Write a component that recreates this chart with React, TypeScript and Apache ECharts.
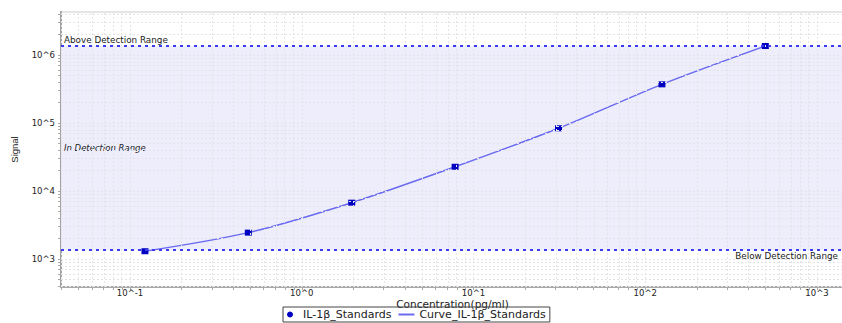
import React, { useEffect, useRef } from "react";
import * as echarts from "echarts";

// Standard curve: concentrations (pg/ml) and measured signal
const concentrations = [0.1221, 0.4883, 1.953, 7.8125, 31.25, 125, 500];
const signals = [1300, 2440, 6730, 22700, 83600, 370000, 1355000];

// Detection limits (signal)
const upperLimit = 1355000;
const lowerLimit = 1355;

// Decade tick labels (log10 exponents)
const xDecades = [-1, 0, 1, 2, 3];
const yDecades = [3, 4, 5, 6];

const standardsName = "IL-1β_Standards";
const curveName = "Curve_IL-1β_Standards";

// Axis extents in log10 units
const X_MIN = -1.402;
const X_MAX = 3.157;
const Y_MIN = 2.588;
const Y_MAX = 6.632;

const FONT = "DejaVu Sans";

// positions of log grid lines (1..9 × 10^n) inside an extent
function logGrid(min: number, max: number): number[] {
  const out: number[] = [];
  for (let n = Math.floor(min) - 1; n <= Math.ceil(max); n++) {
    for (let k = 1; k <= 9; k++) {
      const v = Math.log10(k) + n;
      if (v > min && v < max) out.push(v);
    }
  }
  return out;
}

export default function App() {
  const ref = useRef<HTMLDivElement>(null);

  useEffect(() => {
    if (!ref.current) return;
    const chart = echarts.init(ref.current, undefined, { renderer: "svg" });

    const xGrid = logGrid(X_MIN, X_MAX);
    const yGrid = logGrid(Y_MIN, Y_MAX);
    const points = concentrations.map((c, i) => [Math.log10(c), Math.log10(signals[i])]);

    const gridLineStyle = { color: "#e3e3e8", width: 1, type: [2, 2] as number[] };

    chart.setOption({
      animation: false,
      backgroundColor: "#ffffff",
      grid: {
        left: 61,
        right: -2,
        top: 12,
        bottom: 36,
        show: true,
        borderColor: "#cccccc",
        borderWidth: 1,
        backgroundColor: "transparent",
        containLabel: false,
        outerBoundsMode: "none",
      },
      legend: {
        left: 283,
        bottom: 1,
        data: [
          { name: standardsName, icon: "circle" },
          { name: curveName, itemStyle: { opacity: 0 } },
        ],
        borderColor: "#444444",
        borderWidth: 1,
        padding: [2, 4, 2, 4],
        itemGap: 6,
        itemWidth: 16,
        itemHeight: 6,
        textStyle: { fontFamily: FONT, fontSize: 11, color: "#222222" },
      },
      xAxis: {
        type: "value",
        min: X_MIN,
        max: X_MAX,
        name: "Concentration(pg/ml)",
        nameLocation: "middle",
        nameGap: 11,
        nameMoveOverlap: false,
        nameTextStyle: { fontFamily: FONT, fontSize: 10.5, color: "#222222" },
        axisLine: { show: true, onZero: false, lineStyle: { color: "#a8a8a8", width: 2 } },
        axisTick: {
          show: true,
          customValues: xGrid,
          length: 3,
          lineStyle: { color: "#a8a8a8" },
        },
        axisLabel: {
          customValues: xDecades,
          formatter: (v: number) => "10^" + Math.round(v),
          margin: 1,
          fontFamily: FONT,
          fontSize: 8.5,
          color: "#222222",
        },
        splitLine: { show: false },
      },
      yAxis: {
        type: "value",
        min: Y_MIN,
        max: Y_MAX,
        name: "Signal",
        nameLocation: "middle",
        nameGap: 42,
        nameMoveOverlap: false,
        nameTextStyle: {
          fontFamily: "'Liberation Sans Narrow', 'Liberation Sans'",
          fontSize: 9.5,
          color: "#222222",
        },
        axisLine: { show: true, onZero: false, lineStyle: { color: "#a0a0a0", width: 2 } },
        axisTick: {
          show: true,
          customValues: yGrid,
          length: 3,
          lineStyle: { color: "#a8a8a8" },
        },
        axisLabel: {
          customValues: yDecades,
          formatter: (v: number) => "10^" + Math.round(v),
          margin: 6,
          fontFamily: FONT,
          fontSize: 8.5,
          color: "#222222",
        },
        splitLine: { show: false },
      },
      series: [
        {
          // detection range band and log grid
          type: "line",
          name: "grid",
          data: [],
          silent: true,
          z: 1,
          markArea: {
            silent: true,
            itemStyle: { color: "#ededfc" },
            label: {
              show: true,
              position: "insideLeft",
              distance: 3,
              fontFamily: FONT,
              fontSize: 8.5,
              fontStyle: "italic",
              color: "#222222",
            },
            data: [
              [
                { name: "In Detection Range", yAxis: Math.log10(lowerLimit) },
                { yAxis: Math.log10(upperLimit) },
              ],
            ],
          },
          markLine: {
            silent: true,
            symbol: "none",
            label: { show: false },
            lineStyle: gridLineStyle,
            data: [
              ...xGrid.map((v) => ({ xAxis: v, lineStyle: gridLineStyle })),
              ...yGrid.map((v) => ({ yAxis: v, lineStyle: gridLineStyle })),
            ],
          },
        },
        {
          type: "line",
          name: curveName,
          data: points,
          smooth: 0.3,
          symbol: "none",
          z: 3,
          color: "#6a6af0",
          lineStyle: { color: "#6a6af0", width: 1.5 },
        },
        {
          type: "scatter",
          name: standardsName,
          data: points,
          symbol: "rect",
          symbolSize: [7, 6],
          z: 4,
          itemStyle: { color: "#0000c0", borderWidth: 0, opacity: 1 },
        },
        {
          // detection limit lines
          type: "line",
          name: "limits",
          data: [],
          silent: true,
          z: 5,
          markLine: {
            silent: true,
            symbol: "none",
            lineStyle: { color: "#3b3bee", width: 2, type: [3, 4] },
            label: {
              show: true,
              fontFamily: FONT,
              fontSize: 8.8,
              color: "#222222",
            },
            data: [
              {
                name: "Above Detection Range",
                yAxis: Math.log10(upperLimit),
                label: { position: "insideStartTop", formatter: "Above Detection Range", distance: [3, 2] },
              },
              {
                name: "Below Detection Range",
                yAxis: Math.log10(lowerLimit),
                label: { position: "insideEndBottom", formatter: "Below Detection Range", distance: [6, 1] },
              },
            ],
          },
        },
      ],
    });

    return () => chart.dispose();
  }, []);

  return (
    <div
      ref={ref}
      style={{ position: "absolute", left: 0, top: 0, width: 842, height: 323 }}
    />
  );
}
